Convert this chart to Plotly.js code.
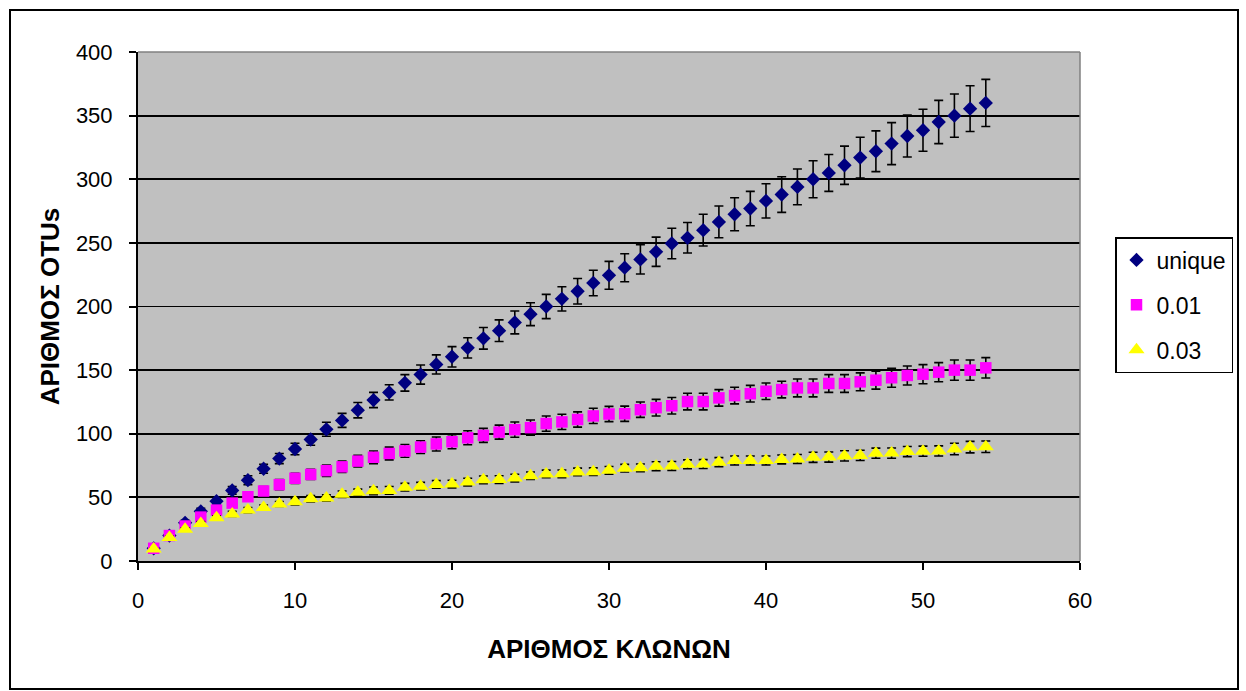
<!DOCTYPE html>
<html>
<head>
<meta charset="utf-8">
<script src="https://cdn.plot.ly/plotly-3.0.1.min.js"></script>
<style>
  html, body { margin: 0; padding: 0; background: #ffffff; }
  #chart { width: 1246px; height: 691px; }
</style>
</head>
<body>
<div id="chart"></div>
<script>
// ---- Data ----
const clones = [1,2,3,4,5,6,7,8,9,10,11,12,13,14,15,16,17,18,19,20,21,22,23,24,25,26,27,28,29,30,31,32,33,34,35,36,37,38,39,40,41,42,43,44,45,46,47,48,49,50,51,52,53,54];

const seriesNames = ["unique", "0.01", "0.03"];

const uniqueValues = [10,20,30,39,47,55.5,63.5,72.5,80.5,88,95.5,103.5,110.5,118.5,126.5,132.5,140,146.5,154.5,160.5,167.5,175,181,187.5,194,200,206,212,218.5,224.5,230.5,237,243,249.5,254,260,266.5,272.5,277,283,288,294,300,305,311,317,322,328,334,338.5,345,350,355.5,360];
const uniqueErrors = [1,1.5,2,2.5,3,3,3.5,3.5,4,4.5,4.5,5.5,5.5,6,6,6,6.5,7.5,7.5,8,8,8.5,8.5,9,9,9.5,9.5,10,10,11,11,11.5,11.5,12,12,12.5,12.5,13,13.5,13.5,14,14,14.5,14.5,15,16,16,16.5,16.5,16.5,17,17,18,18.5];

const otu001Values = [10,20,27.5,34.5,40,45.5,50.5,55,60,65,68,71,74,78.5,81.5,84.5,86.5,89.5,92,93.7,96.8,98.7,101.3,103.2,104.8,108,109.3,111.2,114,115.5,115.7,118.9,120.5,122,125.3,125.3,128.2,130,131.5,133.4,134.7,136,136,139.5,139.5,140.8,142.1,144,145.8,146.8,148.4,150,150,151.8];
const otu001Errors = [0.5,1,1.5,2,2.5,3,3,3.5,4,4,4,4.5,4.5,4.5,5,5,5,5,5.5,5.5,5.5,5.5,5.5,6,6,6,6,6,6,6,6,6,6.5,6.5,6.5,6.5,6.5,6.5,6.5,6.5,6.5,7,7,7,7,7,7,7.5,7.5,7.5,7.5,8,8,8];

const otu003Values = [9.5,18.5,25,29.5,34,37,40,42,44.8,46.5,49,49.5,52.5,54,55.2,55.5,58,58.8,60.2,60.5,62,63.8,64,65.2,67,68.4,68.5,70,70.2,71.3,72.9,73.2,74.5,74.7,76,76.2,77.7,79,79,79,79.8,80.2,81.5,81.7,82.6,83,84.7,84.8,86,86.3,86.5,88,89.5,89.8];
const otu003Errors = [0.5,1,1,1.5,1.5,2,2,2,2,2.5,2.5,2.5,2.5,2.5,3,3,3,3,3,3,3,3,3,3,3,3,3,3,3,3,3,3,3.5,3.5,3.5,3.5,3.5,3.5,3.5,3.5,3.5,3.5,4,4,4,4,4,4,4,4,4,4.5,4.5,4.5];

const xTitle = "ΑΡΙΘΜΟΣ ΚΛΩΝΩΝ";
const yTitle = "ΑΡΙΘΜΟΣ OTUs";

// ---- Styling ----
const FONT = "Arial, 'Liberation Sans', sans-serif";
const errStyle = { type: "data", visible: true, color: "#000000", thickness: 1.6, width: 4.5 };

function trace(name, values, errors, symbol, color, size, group) {
  return {
    type: "scatter",
    mode: "markers",
    name: name,
    x: clones,
    y: values,
    legendgroup: group,
    marker: { symbol: symbol, color: color, size: size, line: { width: 0 } },
    error_y: Object.assign({ array: errors }, errStyle)
  };
}

const data = [
  trace(seriesNames[0], uniqueValues, uniqueErrors, "diamond", "#000080", 11, "g1"),
  trace(seriesNames[1], otu001Values, otu001Errors, "square", "#FF00FF", 11.5, "g2"),
  trace(seriesNames[2], otu003Values, otu003Errors, "triangle-up", "#FFFF00", 14, "g3")
];

// plot area: x 138.5..1080.5 px, y 52..561 px
const L = 138, R = 166, T = 52, B = 130;
const plotW = 1246 - L - R, plotH = 691 - T - B;
function px2x(px) { return (px - L) / plotW; }
function py2y(py) { return (691 - B - py) / plotH; }

const layout = {
  width: 1246,
  height: 691,
  margin: { l: L, r: R, t: T, b: B, pad: 0 },
  paper_bgcolor: "#FFFFFF",
  plot_bgcolor: "#C0C0C0",
  font: { family: FONT, color: "#000000", size: 22 },
  showlegend: true,
  xaxis: {
    range: [0, 60],
    tick0: 0, dtick: 10,
    showgrid: false,
    zeroline: false,
    showline: true, linecolor: "#000000", linewidth: 2,
    ticks: "outside", ticklen: 7, tickwidth: 2, tickcolor: "#000000",
    ticklabelstandoff: 12,
    tickfont: { family: FONT, size: 22, color: "#000000" },
    title: { text: xTitle, font: { family: FONT, size: 26, color: "#000000", weight: "bold" }, standoff: 27 },
    fixedrange: true
  },
  yaxis: {
    range: [0, 400],
    tick0: 0, dtick: 50,
    showgrid: true, gridcolor: "#000000", gridwidth: 1.8,
    zeroline: false,
    showline: true, linecolor: "#000000", linewidth: 2,
    ticks: "outside", ticklen: 7, tickwidth: 2, tickcolor: "#000000",
    ticklabelstandoff: 12,
    tickfont: { family: FONT, size: 22, color: "#000000" },
    title: { text: yTitle, font: { family: FONT, size: 26, color: "#000000", weight: "bold" }, standoff: 9 },
    fixedrange: true
  },
  legend: {
    x: px2x(1115), xanchor: "left",
    y: py2y(237), yanchor: "top",
    bgcolor: "#FFFFFF",
    bordercolor: "#000000",
    borderwidth: 1.5,
    font: { family: FONT, size: 23, color: "#000000" },
    traceorder: "grouped",
    tracegroupgap: 12,
    itemwidth: 30
  },
  shapes: [
    // gray top and right edges of the plot area
    { type: "line", xref: "paper", yref: "paper", x0: 0, x1: 1, y0: 1, y1: 1, line: { color: "#808080", width: 1.5 }, layer: "above" },
    { type: "line", xref: "paper", yref: "paper", x0: 1, x1: 1, y0: 0, y1: 1, line: { color: "#808080", width: 1.5 }, layer: "above" },
    // outer chart border
    { type: "rect", xref: "paper", yref: "paper",
      x0: px2x(10), x1: px2x(1238), y0: py2y(10), y1: py2y(689),
      line: { color: "#000000", width: 2 }, fillcolor: "rgba(0,0,0,0)", layer: "above" }
  ]
};

Plotly.newPlot("chart", data, layout, { displayModeBar: false, staticPlot: true });
</script>
</body>
</html>
